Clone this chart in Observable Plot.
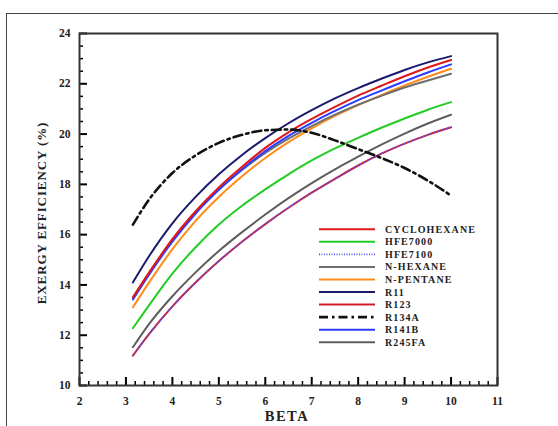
<!DOCTYPE html>
<html><head><meta charset="utf-8">
<script src="https://cdn.jsdelivr.net/npm/d3@7"></script>
<script src="https://cdn.jsdelivr.net/npm/@observablehq/plot@0.6"></script>
<style>
body{margin:0;background:#fff;}
#wrap{position:relative;width:558px;height:426px;overflow:hidden;}
#box{position:absolute;left:6px;top:13px;width:600px;height:500px;border-top:1.5px solid #444;border-left:1.5px solid #444;}
#chart{position:absolute;left:0;top:0;}
#legend{position:absolute;left:0;top:0;}
</style></head>
<body><div id="wrap"><div id="box"></div><div id="chart"></div><svg id="legend" width="558" height="426"></svg></div>
<script>
const beta = [3.15, 3.5, 4, 4.5, 5, 5.5, 6, 6.5, 7, 7.5, 8, 8.5, 9, 9.5, 10];
const cyclohexane = [13.5, 14.5, 15.82, 16.93, 17.88, 18.7, 19.45, 20.07, 20.6, 21.08, 21.53, 21.92, 22.3, 22.65, 22.95];
const hfe7000 = [12.28, 13.2, 14.45, 15.5, 16.4, 17.15, 17.8, 18.4, 18.95, 19.43, 19.85, 20.25, 20.62, 20.97, 21.27];
const hfe7100 = [11.19, 12.05, 13.15, 14.1, 14.95, 15.72, 16.42, 17.07, 17.67, 18.22, 18.75, 19.22, 19.62, 19.97, 20.27];
const nHexane = [13.5, 14.48, 15.78, 16.88, 17.8, 18.57, 19.25, 19.82, 20.32, 20.77, 21.17, 21.52, 21.85, 22.13, 22.4];
const nPentane = [13.11, 14.1, 15.42, 16.55, 17.5, 18.32, 19.05, 19.68, 20.23, 20.72, 21.15, 21.55, 21.93, 22.28, 22.6];
const r11 = [14.1, 15.15, 16.45, 17.5, 18.4, 19.17, 19.84, 20.43, 20.95, 21.42, 21.83, 22.2, 22.55, 22.85, 23.1];
const r123 = [11.19, 12.05, 13.15, 14.1, 14.95, 15.72, 16.42, 17.07, 17.67, 18.22, 18.75, 19.22, 19.62, 19.97, 20.27];
const r134a = [16.4, 17.4, 18.45, 19.15, 19.65, 19.97, 20.15, 20.18, 20.05, 19.75, 19.4, 19.05, 18.65, 18.15, 17.55];
const r141b = [13.42, 14.42, 15.72, 16.84, 17.78, 18.6, 19.32, 19.93, 20.45, 20.92, 21.35, 21.73, 22.1, 22.45, 22.77];
const r245fa = [11.52, 12.45, 13.55, 14.5, 15.35, 16.1, 16.8, 17.45, 18.05, 18.6, 19.1, 19.58, 20.02, 20.42, 20.77];

const xTicks = [2, 3, 4, 5, 6, 7, 8, 9, 10, 11];
const yTicks = [10, 12, 14, 16, 18, 20, 22, 24];

const series = [
  {name: "CYCLOHEXANE", values: cyclohexane, color: "#e01818", dash: null},
  {name: "HFE7000", values: hfe7000, color: "#22cc22", dash: null},
  {name: "HFE7100", values: hfe7100, color: "#5555ff", dash: "1,3"},
  {name: "N-HEXANE", values: nHexane, color: "#6e6e6e", dash: null},
  {name: "N-PENTANE", values: nPentane, color: "#ff8c1a", dash: null},
  {name: "R11", values: r11, color: "#1a1a6e", dash: null},
  {name: "R123", values: r123, color: "#d01c2a", dash: null},
  {name: "R134A", values: r134a, color: "#111111", dash: "9,4,2.5,4"},
  {name: "R141B", values: r141b, color: "#2a3cff", dash: null},
  {name: "R245FA", values: r245fa, color: "#5e5e5e", dash: null}
];
const drawOrder = ["R245FA","HFE7000","R123","HFE7100","N-PENTANE","N-HEXANE","R141B","CYCLOHEXANE","R11","R134A"];

const W = 558, H = 426, ML = 79, MR = 61, MT = 33, MB = 41;
const IW = W - ML - MR, IH = H - MT - MB;
const xMinor = d3.range(0, 46).map(i => +(2 + i * 0.2).toFixed(2)).filter(v => !xTicks.includes(v));
const yMinor = d3.range(0, 29).map(i => 10 + i * 0.5).filter(v => !yTicks.includes(v));

const marks = [];
for (const nm of drawOrder) {
  const s = series.find(d => d.name === nm);
  const data = beta.map((b, i) => ({x: b, y: s.values[i]}));
  marks.push(Plot.line(data, {x: "x", y: "y", stroke: s.color,
    strokeWidth: nm === "R134A" ? 2.6 : (nm === "HFE7100" ? 1.4 : 2),
    strokeDasharray: s.dash, curve: "monotone-x"}));
}
const font = "'Liberation Serif','Times New Roman',serif";
marks.push(
  Plot.ruleX(xMinor, {x: d => d, insetTop: IH - 4, stroke: "black", strokeWidth: 1.5}),
  Plot.ruleX(xTicks, {x: d => d, insetTop: IH - 8, stroke: "black", strokeWidth: 2}),
  Plot.ruleY(yMinor, {y: d => d, insetRight: IW - 4, stroke: "black", strokeWidth: 1.5}),
  Plot.ruleY(yTicks, {y: d => d, insetRight: IW - 8, stroke: "black", strokeWidth: 2}),
  Plot.axisX(xTicks, {tickSize: 0, tickPadding: 11, fontWeight: "bold", fontSize: 11.5, fill: "#222", label: null}),
  Plot.axisY(yTicks, {tickSize: 0, tickPadding: 9, fontWeight: "bold", fontSize: 11.5, fill: "#222", label: null}),
  Plot.frame({stroke: "#333", strokeWidth: 2})
);

const chart = Plot.plot({
  width: W, height: H,
  marginLeft: ML, marginRight: MR, marginTop: MT, marginBottom: MB,
  x: {domain: [2, 11]},
  y: {domain: [10, 24]},
  style: {fontFamily: font, background: "transparent", overflow: "visible"},
  marks
});
document.getElementById("chart").appendChild(chart);

const svg = d3.select(chart);
svg.append("text").attr("x", 287).attr("y", 421).attr("text-anchor", "middle")
  .attr("font-family", font).attr("font-weight", "bold").attr("font-size", 14.5)
  .attr("letter-spacing", 1.5).attr("fill", "#222").text("BETA");
svg.append("text").attr("transform", "translate(46,213) rotate(-90)").attr("text-anchor", "middle")
  .attr("font-family", font).attr("font-weight", "bold").attr("font-size", 13)
  .attr("letter-spacing", 0.9).attr("fill", "#222").text("EXERGY EFFICIENCY (%)");

const lg = d3.select("#legend");
series.forEach((s, i) => {
  const y = 229.3 + i * 12.55;
  lg.append("line").attr("x1", 319).attr("x2", 375).attr("y1", y).attr("y2", y)
    .attr("stroke", s.color).attr("stroke-width", s.name === "R134A" ? 2.6 : (s.name === "HFE7100" ? 1.6 : 2))
    .attr("stroke-dasharray", s.name === "HFE7100" ? "1,1.5" : s.dash);
  lg.append("text").attr("x", 385).attr("y", y + 3.5)
    .attr("font-family", font).attr("font-weight", "bold").attr("font-size", 10)
    .attr("letter-spacing", 1.1).attr("fill", "#222").text(s.name);
});
</script>
</body></html>
